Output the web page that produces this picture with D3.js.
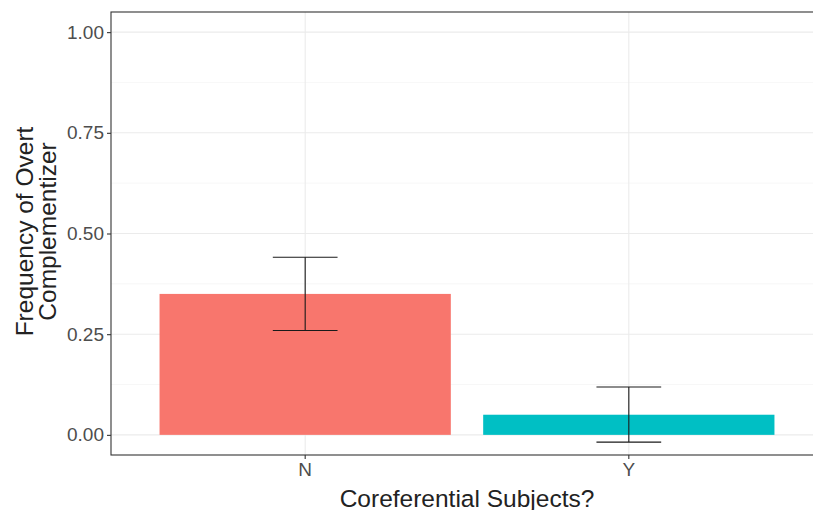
<!DOCTYPE html>
<html>
<head>
<meta charset="utf-8">
<script src="https://cdn.jsdelivr.net/npm/d3@7"></script>
<style>
  body { margin: 0; background: #fff; }
  svg { display: block; font-family: Arial, "Liberation Sans", sans-serif; }
</style>
</head>
<body>
<div id="chart"></div>
<script>
// Daten
const categories = ["N", "Y"];
const means = [0.35, 0.05];
const lower = [0.259, -0.018];
const upper = [0.441, 0.119];
const colors = ["#F8766D", "#00BFC4"];
const yTicks = [0, 0.25, 0.5, 0.75, 1];
const yMinor = [0.125, 0.375, 0.625, 0.875];

const width = 813;
const height = 510;
const margin = { top: 12, right: -10, bottom: 55, left: 111 };

const svg = d3.select("#chart").append("svg")
    .attr("width", width)
    .attr("height", height);

const x0 = margin.left, x1 = width - margin.right;
const y0 = height - margin.bottom, y1 = margin.top;

// Skalen (wie ggplot: Balkenbreite 0.9, Erweiterung 0.6)
const x = d3.scaleBand()
    .domain(categories)
    .range([x0, x1])
    .paddingInner(0.1)
    .paddingOuter(0.15);

const y = d3.scaleLinear()
    .domain([-0.05, 1.05])
    .range([y0, y1]);

const cx = d => x(d) + x.bandwidth() / 2;

// Gitter
const grid = svg.append("g");
grid.selectAll(".minor").data(yMinor).join("line")
    .attr("x1", x0).attr("x2", x1)
    .attr("y1", d => y(d)).attr("y2", d => y(d))
    .attr("stroke", "#f2f2f2").attr("stroke-width", 0.6);
grid.selectAll(".major").data(yTicks).join("line")
    .attr("x1", x0).attr("x2", x1)
    .attr("y1", d => y(d)).attr("y2", d => y(d))
    .attr("stroke", "#ebebeb").attr("stroke-width", 1.1);
grid.selectAll(".vx").data(categories).join("line")
    .attr("x1", cx).attr("x2", cx)
    .attr("y1", y0).attr("y2", y1)
    .attr("stroke", "#ebebeb").attr("stroke-width", 1.1);

// Balken
svg.append("g").selectAll("rect").data(categories).join("rect")
    .attr("x", d => x(d))
    .attr("width", x.bandwidth())
    .attr("y", (d, i) => y(means[i]))
    .attr("height", (d, i) => y(0) - y(means[i]))
    .attr("fill", (d, i) => colors[i]);

// Fehlerbalken
const capW = x.step() * 0.1;
const eb = svg.append("g").attr("stroke", "#1a1a1a").attr("stroke-width", 1.1);
categories.forEach((c, i) => {
    eb.append("line").attr("x1", cx(c)).attr("x2", cx(c))
        .attr("y1", y(lower[i])).attr("y2", y(upper[i]));
    [lower[i], upper[i]].forEach(v => {
        eb.append("line").attr("x1", cx(c) - capW).attr("x2", cx(c) + capW)
            .attr("y1", y(v)).attr("y2", y(v));
    });
});

// Rahmen
svg.append("rect")
    .attr("x", x0).attr("y", y1)
    .attr("width", x1 - x0).attr("height", y0 - y1)
    .attr("fill", "none").attr("stroke", "#333").attr("stroke-width", 1.1);

// Achsen
const yAxis = svg.append("g")
    .attr("transform", `translate(${x0},0)`)
    .call(d3.axisLeft(y).tickValues(yTicks).tickFormat(d3.format(".2f")).tickSize(4).tickPadding(3));
const xAxis = svg.append("g")
    .attr("transform", `translate(0,${y0})`)
    .call(d3.axisBottom(x).tickSize(4).tickPadding(4));
[yAxis, xAxis].forEach(a => {
    a.select(".domain").remove();
    a.selectAll(".tick line").attr("stroke", "#333").attr("stroke-width", 1.1);
    a.selectAll(".tick text").attr("fill", "#4d4d4d").attr("font-size", 19)
        .attr("font-family", "Arial, 'Liberation Sans', sans-serif");
});

// Achsentitel
svg.append("text")
    .attr("x", 467)
    .attr("y", 507)
    .attr("text-anchor", "middle")
    .attr("font-size", 24.5)
    .attr("fill", "#222")
    .text("Coreferential Subjects?");

const yt = svg.append("text")
    .attr("transform", `translate(33,${(y0 + y1) / 2 - 2}) rotate(-90)`)
    .attr("text-anchor", "middle")
    .attr("font-size", 24.5)
    .attr("fill", "#222");
yt.append("tspan").attr("x", 0).attr("y", 0).text("Frequency of Overt");
yt.append("tspan").attr("x", 0).attr("y", 22.5).text("Complementizer");
</script>
</body>
</html>
